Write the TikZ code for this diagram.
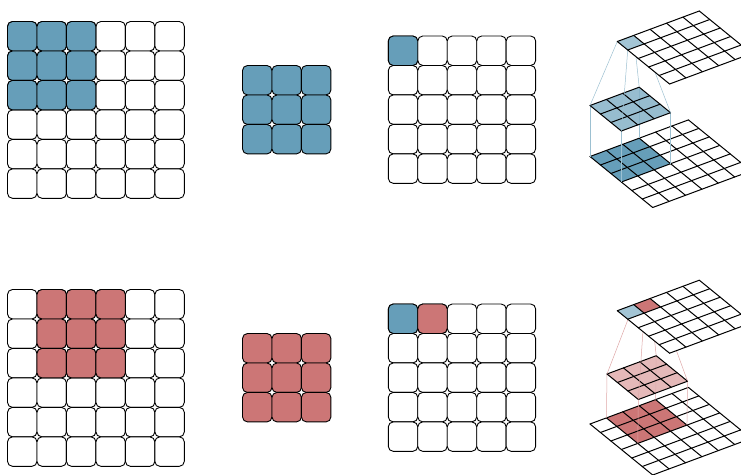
\documentclass[tikz,border=0pt]{standalone}
\usepackage{tikz}

\definecolor{cblue}{RGB}{102,158,185}
\definecolor{cred}{RGB}{204,118,118}

\tikzset{
    cell/.style={draw=black, line width=0.9pt, rounded corners=5pt},
    flat/.style={draw=black, line width=1pt, line cap=round},
    plane/.style={shift={#1}, x={(16.4pt,6.1pt)}, y={(10.45pt,-8.5pt)}},
    bluelink/.style={draw=cblue!65, line width=0.5pt},
    redlink/.style={draw=cred!65, line width=0.5pt},
}
\newcommand{\cs}{29.47}

\begin{document}
\begin{tikzpicture}[x=1pt, y=-1pt]
    \useasboundingbox (0,0) rectangle (741,474);
    \clip (0,0) rectangle (741,474);

    % ---- flat grids ----
    \foreach \dy in {0,268} {
        % input 6x6
        \foreach \r in {0,...,5}
            \foreach \c in {0,...,5}
                \draw[cell, fill=white] ({7.5+\c*\cs},{21.5+\dy+\r*\cs}) rectangle +(\cs,\cs);
        % output 5x5
        \foreach \r in {0,...,4}
            \foreach \c in {0,...,4}
                \draw[cell, fill=white] ({388.3+\c*\cs},{36+\dy+\r*\cs}) rectangle +(\cs,\cs);
        \draw[cell, fill=cblue] (388.3,{36+\dy}) rectangle +(\cs,\cs);
    }
    % highlighted input cells and kernels
    \foreach \r in {0,...,2}
        \foreach \c in {0,...,2} {
            \draw[cell, fill=cblue] ({7.5+\c*\cs},{21.5+\r*\cs}) rectangle +(\cs,\cs);
            \draw[cell, fill=cred] ({7.5+(\c+1)*\cs},{289.5+\r*\cs}) rectangle +(\cs,\cs);
            \draw[cell, fill=cblue] ({242.5+\c*\cs},{65.5+\r*\cs}) rectangle +(\cs,\cs);
            \draw[cell, fill=cred] ({242.5+\c*\cs},{333.5+\r*\cs}) rectangle +(\cs,\cs);
        }
    \draw[cell, fill=cred] ({388.3+\cs},304) rectangle +(\cs,\cs);

    % ---- 3d view, first step ----
    \path[plane={(590,156.5)}] (0,0) coordinate (ia1) (3,0) coordinate (ia2)
        (3,3) coordinate (ia3) (0,3) coordinate (ia4);
    \path[plane={(590,105.5)}] (0,0) coordinate (ka1) (3,0) coordinate (ka2)
        (3,3) coordinate (ka3) (0,3) coordinate (ka4);
    \path[plane={(617.3,41.5)}] (0,0) coordinate (oa1) (1,0) coordinate (oa2)
        (1,1) coordinate (oa3) (0,1) coordinate (oa4);

    \begin{scope}[plane={(590,156.5)}]
        \fill[white] (0,0) -- (6,0) -- (6,6) -- (0,6) -- cycle;
        \fill[cblue] (0,0) -- (3,0) -- (3,3) -- (0,3) -- cycle;
        \foreach \i in {0,...,6} {
            \draw[flat] (\i,0) -- (\i,6);
            \draw[flat] (0,\i) -- (6,\i);
        }
    \end{scope}
    \foreach \n in {1,...,4}
        \draw[bluelink] (ka\n) -- (ia\n);
    \begin{scope}[plane={(590,105.5)}]
        \fill[cblue!80, opacity=0.85] (0,0) -- (3,0) -- (3,3) -- (0,3) -- cycle;
        \foreach \i in {0,...,3} {
            \draw[flat] (\i,0) -- (\i,3);
            \draw[flat] (0,\i) -- (3,\i);
        }
    \end{scope}
    \foreach \n in {1,...,4}
        \draw[bluelink] (ka\n) -- (oa\n);
    \begin{scope}[plane={(617.3,41.5)}]
        \fill[white] (0,0) -- (5,0) -- (5,5) -- (0,5) -- cycle;
        \fill[cblue!60] (0,0) -- (1,0) -- (1,1) -- (0,1) -- cycle;
        \foreach \i in {0,...,5} {
            \draw[flat] (\i,0) -- (\i,5);
            \draw[flat] (0,\i) -- (5,\i);
        }
    \end{scope}

    % ---- 3d view, second step ----
    \path[plane={(590,424)}] (1,0) coordinate (ib1) (4,0) coordinate (ib2)
        (4,3) coordinate (ib3) (1,3) coordinate (ib4);
    \path[plane={(607,374)}] (0,0) coordinate (kb1) (3,0) coordinate (kb2)
        (3,3) coordinate (kb3) (0,3) coordinate (kb4);
    \path[plane={(617.3,310.7)}] (1,0) coordinate (ob1) (2,0) coordinate (ob2)
        (2,1) coordinate (ob3) (1,1) coordinate (ob4);

    \begin{scope}[plane={(590,424)}]
        \fill[white] (0,0) -- (6,0) -- (6,6) -- (0,6) -- cycle;
        \fill[cred] (1,0) -- (4,0) -- (4,3) -- (1,3) -- cycle;
        \foreach \i in {0,...,6} {
            \draw[flat] (\i,0) -- (\i,6);
            \draw[flat] (0,\i) -- (6,\i);
        }
    \end{scope}
    \foreach \n in {1,...,4}
        \draw[redlink] (kb\n) -- (ib\n);
    \begin{scope}[plane={(607,374)}]
        \fill[cred!60, opacity=0.85] (0,0) -- (3,0) -- (3,3) -- (0,3) -- cycle;
        \foreach \i in {0,...,3} {
            \draw[flat] (\i,0) -- (\i,3);
            \draw[flat] (0,\i) -- (3,\i);
        }
    \end{scope}
    \foreach \n in {1,...,4}
        \draw[redlink] (kb\n) -- (ob\n);
    \begin{scope}[plane={(617.3,310.7)}]
        \fill[white] (0,0) -- (5,0) -- (5,5) -- (0,5) -- cycle;
        \fill[cblue!60] (0,0) -- (1,0) -- (1,1) -- (0,1) -- cycle;
        \fill[cred] (1,0) -- (2,0) -- (2,1) -- (1,1) -- cycle;
        \foreach \i in {0,...,5} {
            \draw[flat] (\i,0) -- (\i,5);
            \draw[flat] (0,\i) -- (5,\i);
        }
    \end{scope}
\end{tikzpicture}
\end{document}
